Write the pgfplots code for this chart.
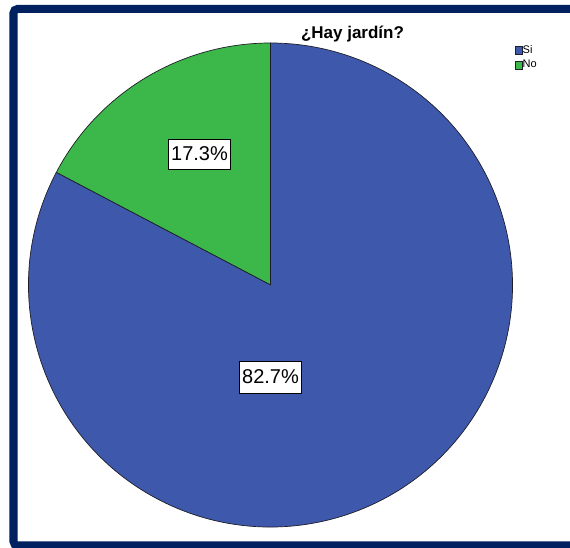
\documentclass[border=0pt]{standalone}
\usepackage{pgfplots}
\pgfplotsset{compat=1.18}
\usepackage{pgfplotstable}
\usepackage{fontspec}
\setmainfont{Liberation Sans}
\definecolor{siblue}{RGB}{62,88,172}
\definecolor{nogreen}{RGB}{60,184,74}
\definecolor{frameblue}{RGB}{0,32,96}
\definecolor{edge}{RGB}{30,30,40}

\pgfplotstableread{
cat pct
Si 82.7
No 17.3
}\piedata

\begin{document}
\begin{tikzpicture}
\useasboundingbox (0,0) rectangle (570bp,548bp);
\pgfplotstablegetelem{0}{pct}\of\piedata \let\pSi\pgfplotsretval
\pgfplotstablegetelem{1}{pct}\of\piedata \let\pNo\pgfplotsretval
\pgfmathsetmacro{\aStart}{90}
\pgfmathsetmacro{\aMid}{90+3.6*\pNo}
\pgfmathsetmacro{\aEnd}{\aMid+3.6*\pSi}
\begin{axis}[
  at={(0,0)}, anchor=south west,
  width=570bp, height=548bp, scale only axis,
  xmin=0, xmax=570, ymin=0, ymax=548,
  hide axis, clip=false,
  legend cell align=left,
  legend style={at={(axis cs:514.5,503.5)}, anchor=north west, draw=none, fill=none,
    inner sep=0pt, outer sep=0pt, row sep=4bp,
    font=\fontsize{11bp}{12bp}\selectfont,
    nodes={inner sep=0.8bp}},
  legend image code/.code={\draw[#1,draw=edge,line width=0.4bp] (0bp,-4bp) rectangle (7bp,4bp);},
]
\addlegendimage{fill=siblue}
\addlegendentry{Si}
\addlegendimage{fill=nogreen}
\addlegendentry{No}
% frame
\draw[frameblue, line width=8bp, rounded corners=4bp]
  (axis cs:580,548-545.5) -- (axis cs:13.5,548-545.5) -- (axis cs:13.5,548-9) -- (axis cs:580,548-9);
% pie
\draw[fill=nogreen, draw=edge, line width=0.7bp, line join=round]
  (axis cs:270.5,263) -- ++(\aStart:242bp) arc[start angle=\aStart, end angle=\aMid, radius=242bp] -- cycle;
\draw[fill=siblue, draw=edge, line width=0.7bp, line join=round]
  (axis cs:270.5,263) -- ++(\aMid:242bp) arc[start angle=\aMid, end angle=\aEnd, radius=242bp] -- cycle;
% labels
\node[fill=white, draw=black, line width=0.6bp, minimum width=62bp, minimum height=30bp, inner sep=0pt,
  font=\fontsize{20bp}{22bp}\selectfont] at (axis cs:199.5,548-154) {\pNo\%};
\node[fill=white, draw=black, line width=0.6bp, minimum width=62bp, minimum height=32bp, inner sep=0pt,
  font=\fontsize{20bp}{22bp}\selectfont] at (axis cs:270.5,548-377) {\pSi\%};
% title
\node[anchor=base, inner sep=0pt, font=\fontsize{17bp}{19bp}\selectfont\bfseries] at (axis cs:352.5,548-39) {¿Hay jardín?};
\end{axis}
\end{tikzpicture}
\end{document}
